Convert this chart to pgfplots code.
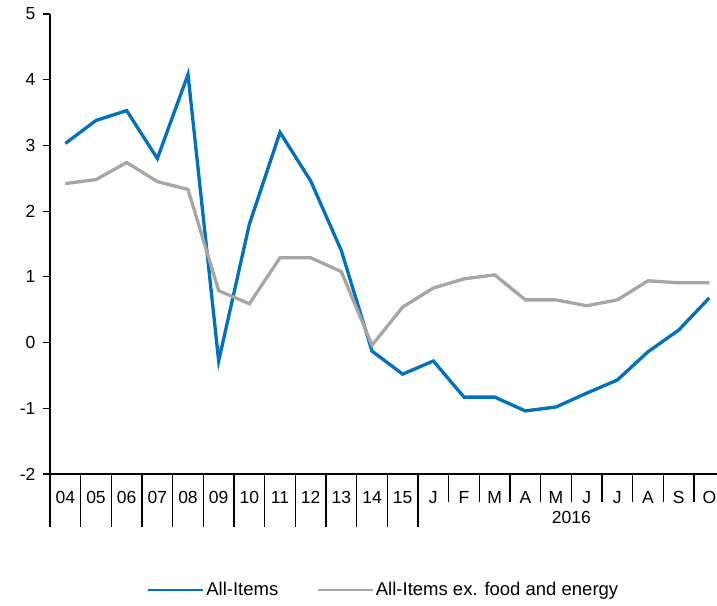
\documentclass[border=0pt]{standalone}
\usepackage{pgfplots}
\pgfplotsset{compat=1.18}
\usepackage{fontspec}
\setmainfont{Liberation Sans}
\definecolor{cblue}{RGB}{0,112,192}
\definecolor{cgray}{RGB}{166,166,166}
\begin{document}
\begin{tikzpicture}[x=1pt,y=1pt]
\path[use as bounding box] (0,0) rectangle (717,605);
\begin{axis}[
  at={(50pt,131pt)}, anchor=south west,
  scale only axis, width=667pt, height=460pt,
  xmin=-0.5, xmax=21.25, ymin=-2, ymax=5,
  axis x line*=bottom, axis y line*=left,
  axis line style={black, line width=1.3pt, -},
  ytick={-2,-1,0,1,2,3,4,5},
  xtick={0,...,21},
  xticklabels={04,05,06,07,08,09,10,11,12,13,14,15,J,F,M,A,M,J,J,A,S,O},
  major x tick style={draw=none},
  y tick style={black, line width=1.2pt},
  tick align=outside, major tick length=7pt,
  xticklabel style={anchor=base, yshift=-22pt},
  yticklabel style={xshift=-4pt},
  font=\fontsize{17.5}{20}\selectfont,
  /pgf/number format/assume math mode=true,
  clip=false,
  legend columns=2,
  legend style={draw=none, fill=none, at={(0.5,-0.252)}, anchor=center,
    font=\fontsize{18.5}{21}\selectfont,
    /tikz/every even column/.append style={column sep=36pt}},
  legend image code/.code={\draw[#1, line width=2.6pt] (0pt,0pt) -- (55pt,0pt);},
]
\addplot[cblue, line width=3.3pt] coordinates {
(0,3.03)(1,3.38)(2,3.53)(3,2.80)(4,4.08)(5,-0.28)(6,1.80)(7,3.20)(8,2.46)(9,1.40)(10,-0.13)(11,-0.48)
(12,-0.28)(13,-0.83)(14,-0.83)(15,-1.04)(16,-0.98)(17,-0.77)(18,-0.57)(19,-0.14)(20,0.19)(21,0.68)};
\addlegendentry{All-Items}
\addplot[cgray, line width=3.3pt] coordinates {
(0,2.42)(1,2.48)(2,2.74)(3,2.45)(4,2.33)(5,0.79)(6,0.59)(7,1.29)(8,1.29)(9,1.08)(10,-0.04)(11,0.54)
(12,0.83)(13,0.97)(14,1.03)(15,0.65)(16,0.65)(17,0.56)(18,0.65)(19,0.94)(20,0.91)(21,0.91)};
\addlegendentry{All-Items ex. food and energy}
\pgfplotsinvokeforeach{-0.5,0.5,1.5,2.5,3.5,4.5,5.5,6.5,7.5,8.5,9.5,10.5,11.5}{\draw[black, line width=1.3pt] (axis cs:#1,-2) -- ([yshift=-53pt]axis cs:#1,-2);}
\pgfplotsinvokeforeach{12.5,13.5,14.5,15.5,16.5,17.5,18.5,19.5,20.5}{\draw[black, line width=1.3pt] (axis cs:#1,-2) -- ([yshift=-28pt]axis cs:#1,-2);}
\node[anchor=base, yshift=-49pt] at (axis cs:16.5,-2) {2016};
\end{axis}
\end{tikzpicture}
\end{document}
